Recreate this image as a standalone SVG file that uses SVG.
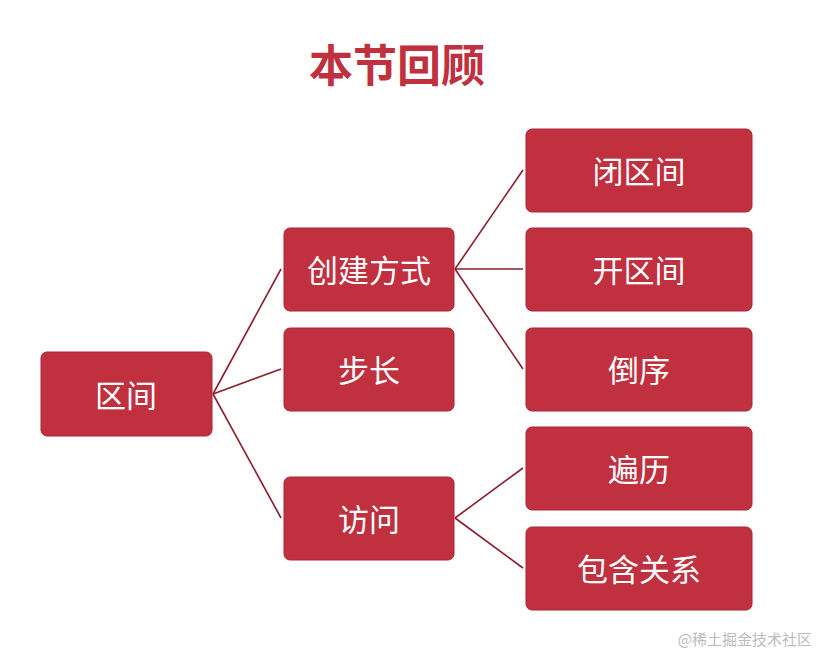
<svg xmlns="http://www.w3.org/2000/svg" width="820" height="662" viewBox="0 0 820 662">
<style>
.b{fill:#c0303f;stroke:#a82634;stroke-width:1}
.t{fill:#fff;font-family:"Noto Sans CJK SC","Noto Sans",sans-serif;font-size:31px;text-anchor:middle;dominant-baseline:central}
.c line{stroke:#8a1f2c;stroke-width:1.6}
</style>
<rect width="820" height="662" fill="#fff"/>
<text x="397" y="63" fill="#c0303f" font-family="Noto Sans CJK SC,sans-serif" font-size="44" font-weight="bold" text-anchor="middle" dominant-baseline="central">本节回顾</text>
<g class="c">
<line x1="213" y1="394" x2="281" y2="269"/>
<line x1="213" y1="394" x2="281" y2="369"/>
<line x1="213" y1="394" x2="281" y2="518"/>
<line x1="455" y1="269" x2="523" y2="170"/>
<line x1="455" y1="269" x2="523" y2="269"/>
<line x1="455" y1="269" x2="523" y2="369"/>
<line x1="455" y1="518" x2="523" y2="468"/>
<line x1="455" y1="518" x2="523" y2="568"/>
</g>
<g id="n1"><rect class="b" x="41" y="352" width="171" height="84" rx="6"/><text class="t" x="126" y="393">区间</text></g>
<g id="n2"><rect class="b" x="284" y="228" width="170" height="83" rx="6"/><text class="t" x="369" y="268">创建方式</text></g>
<g id="n3"><rect class="b" x="284" y="328" width="170" height="83" rx="6"/><text class="t" x="369" y="368">步长</text></g>
<g id="n4"><rect class="b" x="284" y="477" width="170" height="83" rx="6"/><text class="t" x="369" y="517">访问</text></g>
<g id="n5"><rect class="b" x="526" y="129" width="226" height="83" rx="6"/><text class="t" x="639" y="169">闭区间</text></g>
<g id="n6"><rect class="b" x="526" y="228" width="226" height="83" rx="6"/><text class="t" x="639" y="268">开区间</text></g>
<g id="n7"><rect class="b" x="526" y="328" width="226" height="83" rx="6"/><text class="t" x="639" y="368">倒序</text></g>
<g id="n8"><rect class="b" x="526" y="427" width="226" height="83" rx="6"/><text class="t" x="639" y="467">遍历</text></g>
<g id="n9"><rect class="b" x="526" y="527" width="226" height="83" rx="6"/><text class="t" x="639" y="567">包含关系</text></g>
<text x="812" y="645" fill="#bbb" font-family="Noto Sans CJK SC,sans-serif" font-size="15" text-anchor="end">@稀土掘金技术社区</text>
</svg>
